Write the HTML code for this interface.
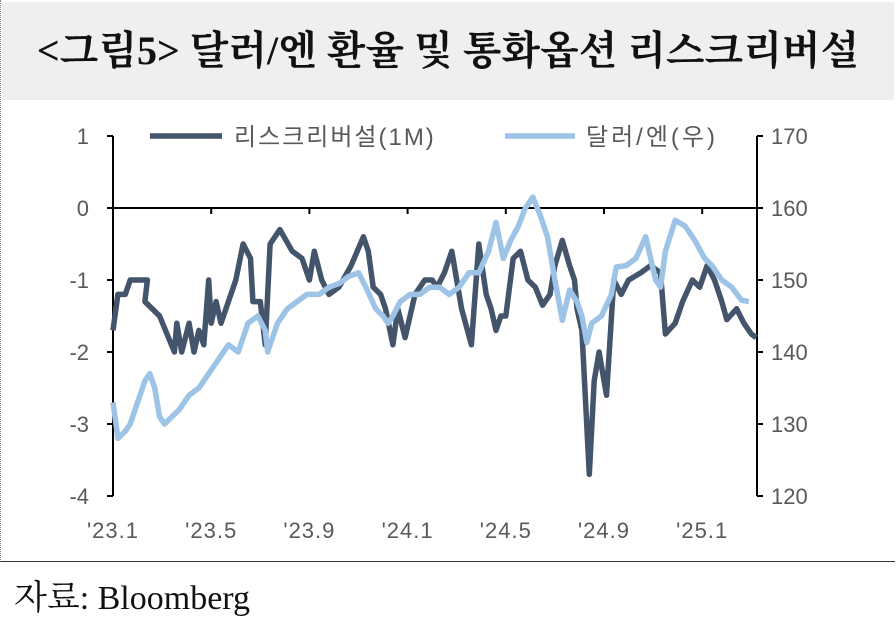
<!DOCTYPE html>
<html><head><meta charset="utf-8"><style>
body{margin:0;background:#fff;width:896px;height:624px;overflow:hidden;font-family:"Liberation Sans","Noto Sans CJK KR",sans-serif}
#title{position:absolute;left:2px;top:2px;width:892px;height:98px;background:#efefef;text-align:center;line-height:98px;font-family:"Liberation Serif","Noto Serif CJK SC","Noto Sans CJK KR",serif;font-weight:bold;font-size:40px;color:#111}
#frame{position:absolute;left:0;top:0;width:894px;height:561px;border-left:1px dotted #888;border-bottom:1.5px solid #333}
#src{position:absolute;left:14px;top:570px;font-family:"Liberation Serif","Noto Serif CJK SC",serif;font-size:34px;color:#111}
</style></head><body>
<div id="frame"></div>
<div id="title">&lt;그림5&gt; 달러/엔 환율 및 통화옵션 리스크리버설</div>
<svg id="chart" width="896" height="624" style="position:absolute;left:0;top:0"></svg>
<div id="src">자료: Bloomberg</div>
<script>
const xTickLabels=["'23.1","'23.5","'23.9","'24.1","'24.5","'24.9","'25.1"];
const xTickMonths=[0,4,8,12,16,20,24];
const leftTicks=[1,0,-1,-2,-3,-4];
const rightTicks=[170,160,150,140,130,120];
// month offsets from Jan 2023 and values
const rrMonths=[0,0.2,0.5,0.7,1.4,1.3,1.9,2.5,2.6,2.8,3.1,3.3,3.5,3.7,3.9,4.0,4.2,4.4,4.7,5.0,5.3,5.6,5.7,6.0,6.1,6.2,6.4,6.8,7.3,7.7,8.0,8.2,8.5,8.8,9.2,9.7,10.2,10.4,10.6,10.9,11.1,11.4,11.6,11.9,12.3,12.7,13.0,13.2,13.5,13.8,14.0,14.2,14.6,14.9,15.2,15.4,15.6,15.8,16.0,16.3,16.6,16.9,17.2,17.5,17.8,18.0,18.3,18.6,18.8,18.9,19.1,19.4,19.6,19.8,20.1,20.4,20.7,21.0,21.5,21.9,22.3,22.5,22.9,23.2,23.6,23.9,24.2,24.5,24.8,25.0,25.4,25.7,26.0,26.2];
const rrValues=[-1.7,-1.2,-1.2,-1.0,-1.0,-1.3,-1.5,-2.0,-1.6,-2.0,-1.6,-2.0,-1.7,-1.9,-1.0,-1.6,-1.3,-1.6,-1.3,-1.0,-0.5,-0.7,-1.3,-1.3,-1.6,-1.9,-0.5,-0.3,-0.6,-0.7,-1.0,-0.6,-1.0,-1.2,-1.1,-0.8,-0.4,-0.6,-1.1,-1.2,-1.4,-1.9,-1.4,-1.8,-1.2,-1.0,-1.0,-1.1,-0.9,-0.6,-1.0,-1.4,-1.9,-0.5,-1.2,-1.4,-1.7,-1.5,-1.5,-0.7,-0.6,-1.0,-1.1,-1.35,-1.2,-0.8,-0.45,-0.8,-1.0,-1.4,-1.7,-3.7,-2.4,-2.0,-2.6,-1.0,-1.2,-1.0,-0.9,-0.8,-0.9,-1.75,-1.6,-1.3,-1.0,-1.1,-0.8,-1.0,-1.3,-1.55,-1.4,-1.6,-1.75,-1.8];
const fxMonths=[0,0.2,0.5,0.7,0.9,1.1,1.3,1.5,1.7,1.9,2.1,2.4,2.7,3.1,3.5,3.9,4.3,4.7,5.1,5.5,5.9,6.2,6.3,6.4,6.7,7.1,7.5,7.9,8.4,8.8,9.2,9.6,10.0,10.3,10.7,11.0,11.2,11.4,11.7,12.1,12.5,12.9,13.3,13.7,14.1,14.5,14.9,15.3,15.6,15.9,16.2,16.5,16.8,17.1,17.4,17.7,18.0,18.3,18.6,18.9,19.1,19.3,19.5,19.9,20.3,20.5,20.9,21.3,21.7,22.1,22.3,22.5,22.9,23.3,23.7,24.1,24.4,24.8,25.2,25.6,25.9,26.2];
const fxValues=[133,128,129,130,132,134,136,137,135,131,130,131,132,134,135,137,139,141,140,144,145,143,140,141,144,146,147,148,148,149,149.5,150.5,151,149,146,145,144,145,147,148,148,149,149,148,149,151,151,154,158,153,155.5,157.4,160,161.5,159,156,150,144.4,148.6,147,145,141.3,144,145,148,151.8,152,153,156,150,149,154,158.3,157.5,155.5,153,152,150,149,147.2,147];
const NS="http://www.w3.org/2000/svg";
const svg=document.getElementById('chart');
const X0=113,X1=757,PXM=24.55;
const xs=m=>X0+m*PXM;
const yL=v=>208-v*72;
const yR=v=>208-(v-160)*7.2;
function mk(t,a){const e=document.createElementNS(NS,t);for(const k in a)e.setAttribute(k,a[k]);svg.appendChild(e);return e;}
let e;
e=mk('line',{x1:X0,y1:yL(1),x2:X0,y2:yL(-4),stroke:'#000','stroke-width':2});


e=mk('line',{x1:X1,y1:yR(170),x2:X1,y2:yR(120),stroke:'#000','stroke-width':2});


e=mk('line',{x1:X0,y1:yL(0),x2:X1,y2:yL(0),stroke:'#000','stroke-width':2});


leftTicks.forEach(v=>{
 mk('line',{x1:X0-6,y1:yL(v),x2:X0,y2:yL(v),stroke:'#000','stroke-width':2});
 e=mk('text',{x:X0-24,y:yL(v)+8,'text-anchor':'end','font-size':22,fill:'#595959'});e.textContent=v;
 
 
});
rightTicks.forEach(v=>{
 mk('line',{x1:X1,y1:yR(v),x2:X1+6,y2:yR(v),stroke:'#000','stroke-width':2});
 e=mk('text',{x:X1+14,y:yR(v)+8,'font-size':22,fill:'#595959'});e.textContent=v;
 
 
});
xTickMonths.forEach((m,i)=>{
 mk('line',{x1:xs(m),y1:yL(0),x2:xs(m),y2:yL(0)+6,stroke:'#000','stroke-width':2});
 e=mk('text',{x:xs(m),y:538,'text-anchor':'middle','font-size':22,fill:'#595959','letter-spacing':1});e.textContent=xTickLabels[i];
 
 
});
e=mk('path',{d:rrMonths.map((m,i)=>(i?'L':'M')+xs(m).toFixed(1)+','+yL(rrValues[i]).toFixed(1)).join(''),fill:'none',stroke:'#44546a','stroke-width':5.5,'stroke-linejoin':'round'});


e=mk('path',{d:fxMonths.map((m,i)=>(i?'L':'M')+xs(m).toFixed(1)+','+yR(fxValues[i]).toFixed(1)).join(''),fill:'none',stroke:'#9dc3e6','stroke-width':5.5,'stroke-linejoin':'round'});


// legend
e=mk('line',{x1:150,y1:136,x2:222,y2:136,stroke:'#44546a','stroke-width':5.5});


e=mk('text',{x:234,y:145,'font-size':24,fill:'#595959','letter-spacing':2});e.textContent='리스크리버설(1M)';


e=mk('line',{x1:505,y1:136,x2:575,y2:136,stroke:'#9dc3e6','stroke-width':5.5});


e=mk('text',{x:586,y:145,'font-size':24,fill:'#595959','letter-spacing':3});e.textContent='달러/엔(우)';


</script>
</body></html>
